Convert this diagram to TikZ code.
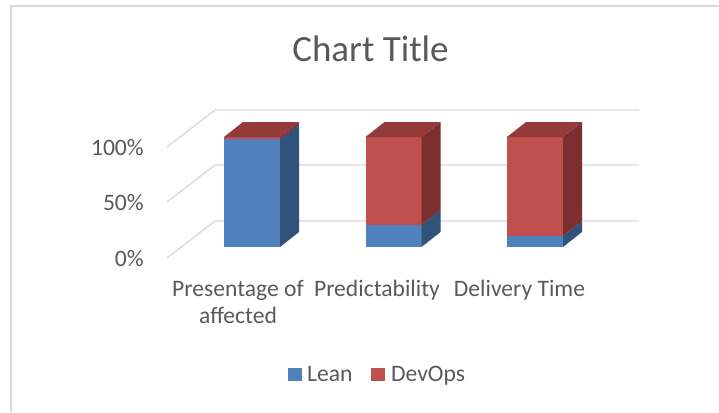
\documentclass[tikz,border=0pt]{standalone}
\usepackage{fontspec}
\setmainfont{Carlito}
\usepackage{tikz}
\usetikzlibrary{positioning}
\definecolor{leanblue}{HTML}{4F81BD}
\definecolor{leanside}{HTML}{31527A}
\definecolor{devred}{HTML}{C0504D}
\definecolor{devtop}{HTML}{943A38}
\definecolor{devside}{HTML}{7B2F2E}
\definecolor{gridgrey}{HTML}{D9D9D9}
\definecolor{textgrey}{HTML}{595959}

\begin{document}
\begin{tikzpicture}[x=1pt, y=-1pt,
  gridline/.style={draw=gridgrey, line width=1.3pt},
  chartlabel/.style={text=textgrey, inner sep=0pt, font=\fontsize{23.6}{27.5}\selectfont},
  legendkey/.style={minimum size=13.5pt, inner sep=0pt}]
\useasboundingbox (0,0) rectangle (719,412);
\draw[gridgrey, line width=1.2pt] (11,412) -- (11,6) -- (719,6);
% title
\node (title) [text=textgrey, inner sep=0pt, anchor=base, font=\fontsize{37}{44}\selectfont] at (370.5,61) {Chart Title};
% grid on the back wall and the floor
\foreach \g in {110,165,221} {
  \draw[gridline] (167,\g+37) -- (215,\g) -- (639,\g);
}
\node (p100) [chartlabel, anchor=base east] at (144,155) {100\%};
\node (p50) [chartlabel, anchor=base east] at (144,210) {50\%};
\node (p0) [chartlabel, anchor=base east] at (144,266) {0\%};
% stacked bars: left edge / lean share
\foreach \x/\l in {224/98, 365.5/20, 507/10} {
  \pgfmathsetmacro\yb{247-1.1*\l}
  \fill[leanblue] (\x,247) rectangle (\x+56,\yb);
  \fill[leanside] (\x+56,247) -- (\x+75,232) -- (\x+75,\yb-15) -- (\x+56,\yb) -- cycle;
  \fill[devred] (\x,\yb) rectangle (\x+56,137);
  \fill[devside] (\x+56,\yb) -- (\x+75,\yb-15) -- (\x+75,122) -- (\x+56,137) -- cycle;
  \fill[devtop] (\x,137) -- (\x+56,137) -- (\x+75,122) -- (\x+19,122) -- cycle;
}
% categories
\node (cat1) [chartlabel, align=center, anchor=north] at (238,280) {Presentage of\\affected};
\node (cat2) [chartlabel, anchor=north] at (377,280) {Predictability};
\node (cat3) [chartlabel, anchor=north] at (519.5,280) {Delivery Time};
% legend
\node (leankey) [legendkey, fill=leanblue] at (295,374.5) {};
\node (lean) [chartlabel, right=5pt of leankey.south east, anchor=base west] {Lean};
\node (devkey) [legendkey, fill=devred] at (378,374.5) {};
\node (devops) [chartlabel, right=6pt of devkey.south east, anchor=base west] {DevOps};
\end{tikzpicture}
\end{document}
